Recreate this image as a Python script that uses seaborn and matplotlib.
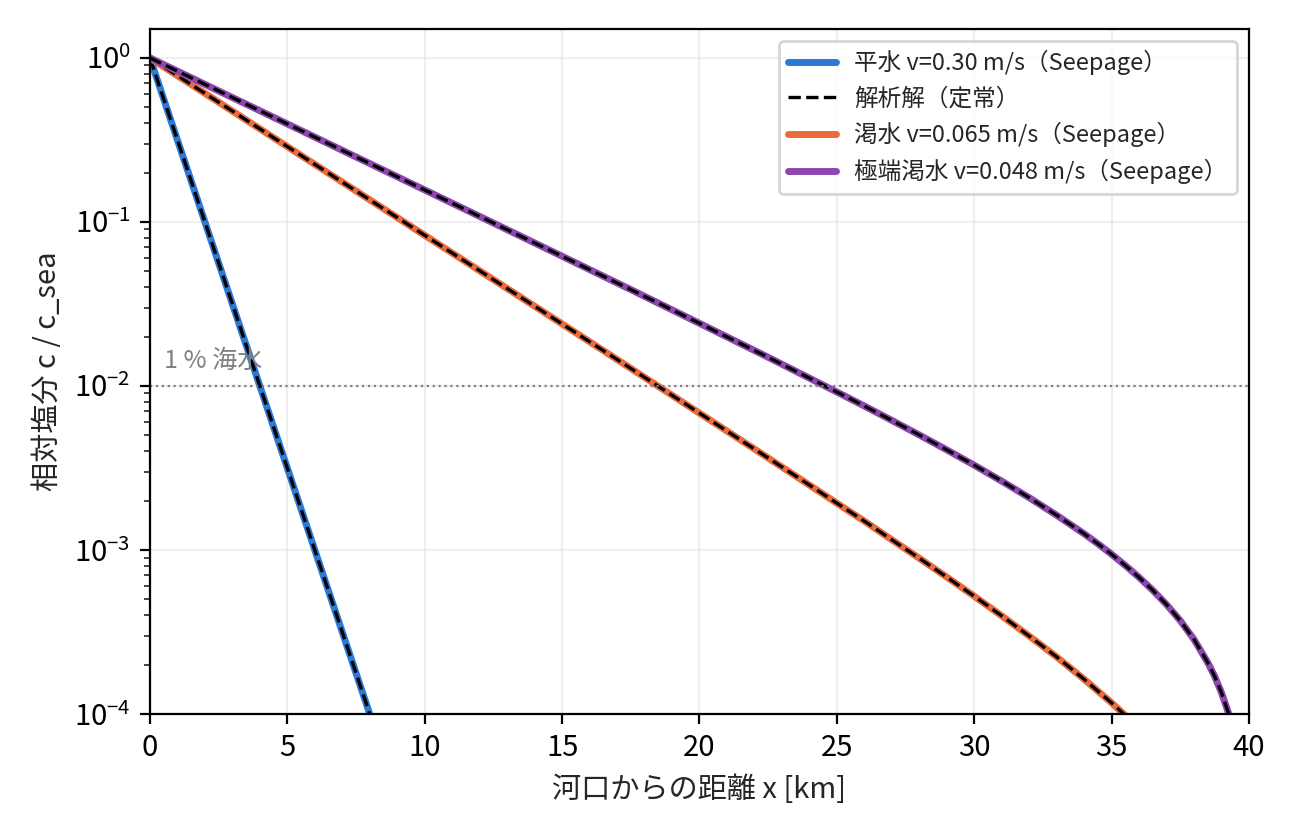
import numpy as np
import pandas as pd
import matplotlib
matplotlib.use('Agg')
import matplotlib.pyplot as plt
import seaborn as sns

sns.set_style('ticks')
plt.rcParams['font.family'] = ['Noto Sans CJK JP', 'DejaVu Sans']
plt.rcParams['axes.unicode_minus'] = False

# Values (x in km, c / c_sea)
x_normal = [0, 1, 2, 3, 4, 5, 6, 7, 8, 9, 10]
c_normal = [1.0, 0.316, 0.1, 0.0316, 0.01, 3.16e-3, 1.0e-3, 3.16e-4, 1.0e-4, 3.16e-5, 1.0e-5]

x_low = [0, 2.5, 5, 7.5, 10, 12.5, 15, 17.5, 20, 22.5, 24, 25, 26, 27, 28, 29, 30,
         31, 32, 33, 34, 35, 35.5, 36, 37]
c_low = [1.0, 0.537, 0.288, 0.1545, 0.0829, 0.0445, 0.0239, 0.0128, 6.83e-3, 3.64e-3,
         2.49e-3, 1.93e-3, 1.50e-3, 1.155e-3, 8.91e-4, 6.84e-4, 5.23e-4,
         3.97e-4, 2.99e-4, 2.23e-4, 1.63e-4, 1.17e-4, 9.8e-5, 8.1e-5, 5.2e-5]

x_drought = [0, 2.5, 5, 7.5, 10, 12.5, 15, 17.5, 20, 22.5, 25, 26, 27, 28, 29, 30,
             31, 32, 33, 34, 34.5, 35, 35.5, 36, 36.5, 37, 37.5, 38, 38.5, 38.75,
             39, 39.25, 39.5]
c_drought = [1.0, 0.629, 0.396, 0.249, 0.1567, 0.0985, 0.0618, 0.0387, 0.0241, 0.01496,
             9.19e-3, 7.55e-3, 6.17e-3, 5.03e-3, 4.08e-3, 3.29e-3,
             2.63e-3, 2.085e-3, 1.63e-3, 1.256e-3, 1.092e-3, 9.42e-4, 8.05e-4, 6.81e-4,
             5.68e-4, 4.65e-4, 3.71e-4, 2.85e-4, 2.06e-4, 1.70e-4,
             1.35e-4, 1.02e-4, 7.0e-5]

labels = ['平水 v=0.30 m/s（Seepage）', '渇水 v=0.065 m/s（Seepage）', '極端渇水 v=0.048 m/s（Seepage）']
colors = ['#2a7ad6', '#eb6b3a', '#8e47b0']
series = [(x_normal, c_normal), (x_low, c_low), (x_drought, c_drought)]

fig = plt.figure(figsize=(6.48, 4.135), dpi=200)
ax = fig.add_axes([0.1157, 0.1366, 0.848, 0.8283])

for i, (xs, cs) in enumerate(series):
    df = pd.DataFrame({'x': xs, 'c': cs})
    sns.lineplot(data=df, x='x', y='c', ax=ax, color=colors[i], lw=2.5,
                 label=labels[i], sort=False)
    sns.lineplot(data=df, x='x', y='c', ax=ax, color='black', lw=1.2,
                 linestyle='--', sort=False,
                 label='解析解（定常）' if i == 0 else '_nolegend_')

ax.set_yscale('log')
ax.set_xlim(0, 40)
ax.set_ylim(1e-4, 1.5)

ax.axhline(0.01, color='gray', ls=':', lw=0.8)
ax.text(0.5, 0.0128, '1 % 海水', color='gray', fontsize=9)

ax.grid(True, which='major', alpha=0.3)
for sp in ax.spines.values():
    sp.set_color('black')
ax.tick_params(labelsize=10.5, colors='black')

ax.set_xlabel('河口からの距離 x [km]', fontsize=10.5)
ax.set_ylabel('相対塩分 c / c_sea', fontsize=10.5)

ax.legend(loc='upper right', fontsize=8.5)

fig.savefig('out.png', dpi=200)
